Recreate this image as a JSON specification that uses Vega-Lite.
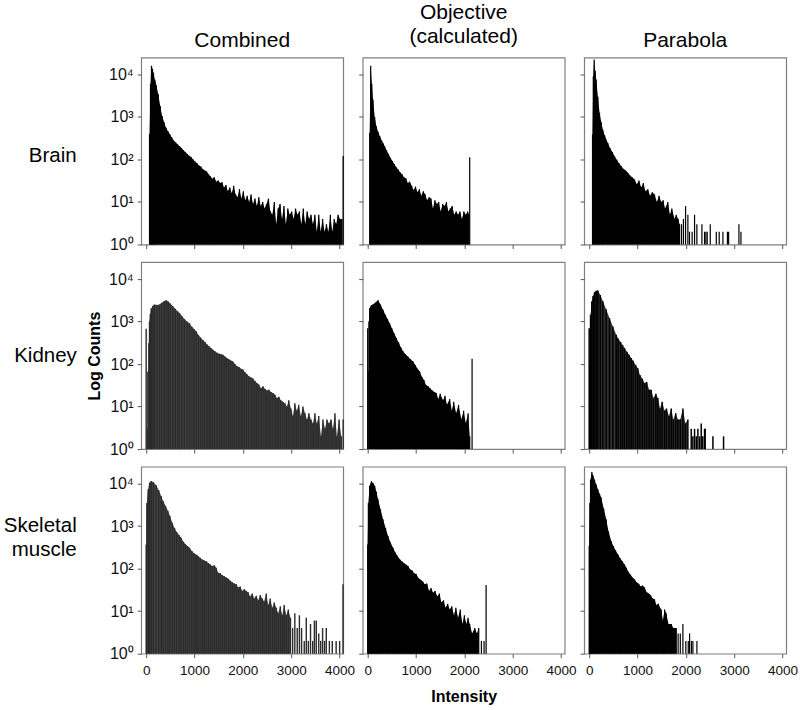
{
"$schema":"https://vega.github.io/schema/vega-lite/v6.json",
"autosize":"none",
"padding":{"left":141.2,"top":57.5,"right":658.8,"bottom":652.5},
"background":"white",
"bounds":"flush",
"columns":3,
"spacing":{"row":17.6,"column":19.5},
"config":{
"view":{"stroke":"#808080","strokeWidth":1.2},
"axis":{"grid":false,"domain":false,"tickColor":"#555","tickSize":4,"labelFont":"Liberation Sans","labelColor":"#111","titleFont":"Liberation Sans","titleColor":"#000","labelOverlap":false},
"title":{"font":"Liberation Sans","fontSize":21,"fontWeight":"normal","color":"#000","lineHeight":24,"anchor":"middle"}
},
"datasets":{
"bc":[{"x":70,"y":400},{"x":90,"y":6000},{"x":110,"y":16000},{"x":130,"y":13500},{"x":150,"y":11000},{"x":180,"y":7500},{"x":210,"y":5600},{"x":250,"y":3400},{"x":290,"y":1800},{"x":330,"y":1050},{"x":370,"y":750},{"x":410,"y":560},{"x":450,"y":460},{"x":490,"y":390},{"x":530,"y":330},{"x":570,"y":280},{"x":610,"y":250},{"x":650,"y":225},{"x":690,"y":205},{"x":730,"y":185},{"x":770,"y":165},{"x":810,"y":150},{"x":850,"y":135},{"x":890,"y":122},{"x":930,"y":115},{"x":970,"y":100},{"x":1010,"y":90},{"x":1050,"y":82},{"x":1090,"y":72},{"x":1130,"y":68},{"x":1170,"y":60},{"x":1210,"y":55},{"x":1250,"y":52},{"x":1290,"y":45},{"x":1330,"y":40},{"x":1370,"y":35},{"x":1410,"y":38},{"x":1450,"y":30},{"x":1490,"y":32},{"x":1530,"y":28},{"x":1570,"y":29},{"x":1610,"y":22},{"x":1650,"y":25},{"x":1690,"y":18},{"x":1730,"y":22},{"x":1770,"y":16},{"x":1810,"y":24},{"x":1850,"y":15},{"x":1890,"y":13},{"x":1930,"y":20},{"x":1970,"y":12},{"x":2010,"y":18},{"x":2050,"y":11},{"x":2090,"y":14},{"x":2130,"y":10},{"x":2170,"y":15},{"x":2210,"y":9},{"x":2250,"y":12},{"x":2290,"y":8},{"x":2330,"y":13},{"x":2370,"y":8},{"x":2410,"y":10},{"x":2450,"y":7},{"x":2490,"y":9},{"x":2530,"y":12},{"x":2570,"y":6},{"x":2610,"y":5},{"x":2650,"y":10},{"x":2690,"y":3},{"x":2730,"y":7},{"x":2770,"y":9},{"x":2810,"y":4},{"x":2850,"y":8},{"x":2890,"y":3},{"x":2930,"y":7},{"x":2970,"y":5},{"x":3010,"y":6},{"x":3050,"y":4},{"x":3090,"y":7},{"x":3130,"y":5},{"x":3170,"y":6},{"x":3210,"y":3},{"x":3250,"y":7},{"x":3290,"y":3},{"x":3330,"y":6},{"x":3370,"y":4},{"x":3410,"y":5},{"x":3450,"y":3},{"x":3490,"y":5},{"x":3530,"y":2},{"x":3570,"y":5},{"x":3610,"y":2},{"x":3650,"y":4},{"x":3690,"y":2},{"x":3730,"y":3},{"x":3770,"y":2},{"x":3810,"y":5},{"x":3850,"y":2},{"x":3890,"y":4},{"x":3930,"y":3},{"x":3970,"y":5},{"x":4010,"y":4},{"x":4050,"y":4},{"x":4075,"y":120}],
"bo":[{"x":41,"y":425},{"x":62,"y":16000},{"x":85,"y":6000},{"x":110,"y":2570},{"x":145,"y":1000},{"x":180,"y":600},{"x":215,"y":450},{"x":250,"y":355},{"x":290,"y":280},{"x":320,"y":240},{"x":352,"y":205},{"x":390,"y":165},{"x":430,"y":135},{"x":470,"y":110},{"x":510,"y":92},{"x":550,"y":78},{"x":590,"y":66},{"x":630,"y":58},{"x":670,"y":50},{"x":710,"y":45},{"x":750,"y":38},{"x":790,"y":36},{"x":830,"y":28},{"x":870,"y":30},{"x":910,"y":24},{"x":950,"y":19},{"x":990,"y":23},{"x":1030,"y":17},{"x":1070,"y":20},{"x":1110,"y":14},{"x":1150,"y":18},{"x":1190,"y":15},{"x":1230,"y":11},{"x":1270,"y":13},{"x":1310,"y":12},{"x":1350,"y":7},{"x":1390,"y":11},{"x":1430,"y":9},{"x":1470,"y":10},{"x":1510,"y":6},{"x":1550,"y":9},{"x":1590,"y":8},{"x":1630,"y":10},{"x":1670,"y":6},{"x":1710,"y":7},{"x":1750,"y":8},{"x":1790,"y":5},{"x":1830,"y":6},{"x":1870,"y":5},{"x":1910,"y":6},{"x":1950,"y":4},{"x":1990,"y":6},{"x":2030,"y":5},{"x":2070,"y":6},{"x":2095,"y":5},{"x":2111,"y":112}],
"bp":[{"x":69,"y":390},{"x":85,"y":9000},{"x":103,"y":22500},{"x":125,"y":12000},{"x":145,"y":7600},{"x":180,"y":3000},{"x":214,"y":1260},{"x":250,"y":750},{"x":283,"y":500},{"x":320,"y":370},{"x":386,"y":245},{"x":430,"y":185},{"x":480,"y":150},{"x":524,"y":120},{"x":570,"y":98},{"x":615,"y":82},{"x":662,"y":70},{"x":710,"y":60},{"x":755,"y":55},{"x":800,"y":49},{"x":845,"y":42},{"x":890,"y":38},{"x":938,"y":34},{"x":985,"y":26},{"x":1030,"y":32},{"x":1076,"y":22},{"x":1120,"y":28},{"x":1165,"y":18},{"x":1214,"y":20},{"x":1260,"y":14},{"x":1305,"y":17},{"x":1352,"y":15},{"x":1400,"y":10},{"x":1445,"y":14},{"x":1490,"y":10},{"x":1530,"y":11},{"x":1570,"y":7},{"x":1628,"y":10},{"x":1670,"y":5},{"x":1710,"y":7},{"x":1766,"y":4},{"x":1800,"y":5},{"x":1840,"y":4},{"x":1870,"y":3},{"x":1910,"y":3},{"x":1950,"y":4},{"x":1994,"y":8},{"x":2042,"y":5},{"x":2075,"y":2},{"x":2130,"y":2},{"x":2180,"y":5},{"x":2228,"y":3},{"x":2332,"y":3},{"x":2387,"y":2},{"x":2415,"y":2},{"x":2442,"y":2},{"x":2505,"y":3},{"x":2630,"y":2},{"x":2690,"y":2},{"x":2767,"y":2},{"x":2860,"y":2},{"x":2885,"y":2},{"x":3098,"y":3},{"x":3140,"y":2}],
"kc":[{"x":0,"y":680},{"x":20,"y":3},{"x":35,"y":67},{"x":55,"y":310},{"x":69,"y":1000},{"x":85,"y":1500},{"x":104,"y":2040},{"x":140,"y":2350},{"x":172,"y":2500},{"x":225,"y":2450},{"x":276,"y":2500},{"x":320,"y":2750},{"x":370,"y":3000},{"x":414,"y":3150},{"x":455,"y":2950},{"x":500,"y":2650},{"x":552,"y":2300},{"x":600,"y":2000},{"x":650,"y":1740},{"x":690,"y":1590},{"x":740,"y":1350},{"x":790,"y":1150},{"x":845,"y":1000},{"x":897,"y":910},{"x":945,"y":750},{"x":990,"y":670},{"x":1035,"y":590},{"x":1080,"y":480},{"x":1125,"y":420},{"x":1173,"y":370},{"x":1215,"y":330},{"x":1260,"y":290},{"x":1300,"y":262},{"x":1340,"y":240},{"x":1380,"y":218},{"x":1420,"y":200},{"x":1465,"y":185},{"x":1510,"y":175},{"x":1550,"y":170},{"x":1587,"y":166},{"x":1630,"y":150},{"x":1670,"y":138},{"x":1710,"y":130},{"x":1750,"y":122},{"x":1794,"y":115},{"x":1835,"y":100},{"x":1875,"y":90},{"x":1920,"y":85},{"x":1960,"y":78},{"x":2001,"y":74},{"x":2040,"y":65},{"x":2080,"y":58},{"x":2125,"y":52},{"x":2170,"y":48},{"x":2208,"y":46},{"x":2250,"y":40},{"x":2290,"y":36},{"x":2330,"y":33},{"x":2375,"y":27},{"x":2415,"y":30},{"x":2460,"y":26},{"x":2500,"y":24},{"x":2540,"y":25},{"x":2580,"y":22},{"x":2622,"y":21},{"x":2665,"y":19},{"x":2705,"y":16},{"x":2745,"y":17},{"x":2785,"y":14},{"x":2829,"y":13},{"x":2870,"y":12},{"x":2910,"y":10},{"x":2950,"y":14},{"x":2995,"y":9},{"x":3036,"y":6},{"x":3075,"y":12},{"x":3115,"y":8},{"x":3155,"y":11},{"x":3200,"y":6},{"x":3243,"y":10},{"x":3285,"y":7},{"x":3325,"y":5},{"x":3365,"y":7},{"x":3410,"y":5},{"x":3450,"y":4},{"x":3490,"y":7},{"x":3530,"y":4},{"x":3570,"y":6},{"x":3615,"y":2},{"x":3657,"y":5},{"x":3700,"y":3},{"x":3740,"y":5},{"x":3780,"y":4},{"x":3825,"y":5},{"x":3864,"y":3},{"x":3905,"y":7},{"x":3945,"y":2},{"x":3990,"y":5},{"x":4036,"y":2},{"x":4075,"y":5}],
"ko":[{"x":0,"y":700},{"x":10,"y":67},{"x":25,"y":1000},{"x":41,"y":2090},{"x":75,"y":2400},{"x":110,"y":2500},{"x":160,"y":2800},{"x":214,"y":3150},{"x":265,"y":2500},{"x":317,"y":1900},{"x":365,"y":1450},{"x":410,"y":1150},{"x":455,"y":910},{"x":500,"y":700},{"x":550,"y":520},{"x":593,"y":410},{"x":640,"y":320},{"x":685,"y":250},{"x":731,"y":200},{"x":780,"y":170},{"x":830,"y":150},{"x":885,"y":130},{"x":938,"y":115},{"x":985,"y":95},{"x":1030,"y":78},{"x":1076,"y":67},{"x":1120,"y":50},{"x":1165,"y":42},{"x":1205,"y":32},{"x":1249,"y":30},{"x":1290,"y":27},{"x":1335,"y":24},{"x":1380,"y":22},{"x":1421,"y":21},{"x":1460,"y":15},{"x":1500,"y":20},{"x":1559,"y":14},{"x":1600,"y":18},{"x":1640,"y":11},{"x":1697,"y":15},{"x":1740,"y":8},{"x":1780,"y":13},{"x":1830,"y":7},{"x":1880,"y":11},{"x":1938,"y":5},{"x":1985,"y":8},{"x":2030,"y":4},{"x":2077,"y":7},{"x":2111,"y":2},{"x":2160,"y":134}],
"kp":[{"x":0,"y":700},{"x":14,"y":100},{"x":28,"y":1450},{"x":55,"y":3000},{"x":80,"y":4000},{"x":110,"y":4900},{"x":145,"y":5300},{"x":180,"y":5400},{"x":230,"y":4200},{"x":283,"y":3000},{"x":350,"y":1950},{"x":421,"y":1200},{"x":490,"y":760},{"x":559,"y":490},{"x":600,"y":400},{"x":650,"y":330},{"x":690,"y":280},{"x":731,"y":240},{"x":780,"y":195},{"x":825,"y":165},{"x":869,"y":138},{"x":910,"y":120},{"x":960,"y":95},{"x":1007,"y":80},{"x":1050,"y":55},{"x":1100,"y":45},{"x":1145,"y":36},{"x":1190,"y":38},{"x":1240,"y":25},{"x":1283,"y":25},{"x":1330,"y":16},{"x":1380,"y":20},{"x":1421,"y":16},{"x":1465,"y":9},{"x":1510,"y":13},{"x":1559,"y":8},{"x":1600,"y":9},{"x":1650,"y":6},{"x":1697,"y":9},{"x":1740,"y":5},{"x":1790,"y":7},{"x":1835,"y":5},{"x":1885,"y":5},{"x":1939,"y":9},{"x":1990,"y":4},{"x":2042,"y":5},{"x":2111,"y":3},{"x":2145,"y":2},{"x":2180,"y":3},{"x":2215,"y":2},{"x":2249,"y":3},{"x":2285,"y":2},{"x":2318,"y":4},{"x":2350,"y":2},{"x":2387,"y":3},{"x":2400,"y":3},{"x":2560,"y":2},{"x":2780,"y":2}],
"mc":[{"x":0,"y":370},{"x":14,"y":3500},{"x":41,"y":7400},{"x":70,"y":10500},{"x":104,"y":11500},{"x":150,"y":10800},{"x":207,"y":9100},{"x":260,"y":7000},{"x":310,"y":5100},{"x":350,"y":3900},{"x":400,"y":3000},{"x":449,"y":2300},{"x":490,"y":1750},{"x":540,"y":1200},{"x":586,"y":910},{"x":630,"y":730},{"x":680,"y":620},{"x":724,"y":535},{"x":770,"y":430},{"x":810,"y":380},{"x":855,"y":340},{"x":897,"y":310},{"x":945,"y":260},{"x":990,"y":230},{"x":1030,"y":215},{"x":1070,"y":200},{"x":1115,"y":180},{"x":1160,"y":165},{"x":1200,"y":155},{"x":1242,"y":150},{"x":1285,"y":135},{"x":1325,"y":125},{"x":1365,"y":115},{"x":1410,"y":120},{"x":1449,"y":105},{"x":1490,"y":80},{"x":1530,"y":78},{"x":1575,"y":70},{"x":1615,"y":66},{"x":1656,"y":62},{"x":1700,"y":58},{"x":1740,"y":52},{"x":1780,"y":48},{"x":1820,"y":45},{"x":1863,"y":43},{"x":1905,"y":36},{"x":1945,"y":38},{"x":1990,"y":30},{"x":2030,"y":33},{"x":2070,"y":30},{"x":2110,"y":28},{"x":2150,"y":22},{"x":2195,"y":26},{"x":2235,"y":20},{"x":2277,"y":23},{"x":2320,"y":18},{"x":2360,"y":24},{"x":2400,"y":20},{"x":2440,"y":17},{"x":2484,"y":26},{"x":2525,"y":14},{"x":2565,"y":20},{"x":2610,"y":12},{"x":2650,"y":16},{"x":2691,"y":12},{"x":2730,"y":9},{"x":2775,"y":13},{"x":2815,"y":8},{"x":2855,"y":14},{"x":2898,"y":8},{"x":2940,"y":11},{"x":2985,"y":7},{"x":3030,"y":4},{"x":3075,"y":9},{"x":3125,"y":4},{"x":3170,"y":8},{"x":3215,"y":4},{"x":3270,"y":2},{"x":3312,"y":7},{"x":3355,"y":2},{"x":3400,"y":5},{"x":3445,"y":2},{"x":3480,"y":6},{"x":3519,"y":6},{"x":3570,"y":3},{"x":3610,"y":2},{"x":3650,"y":4},{"x":3690,"y":2},{"x":3726,"y":4},{"x":3790,"y":2},{"x":3850,"y":2},{"x":3930,"y":2},{"x":4002,"y":2},{"x":4072,"y":43}],
"mo":[{"x":0,"y":370},{"x":14,"y":3500},{"x":41,"y":8900},{"x":76,"y":11300},{"x":110,"y":10300},{"x":145,"y":8900},{"x":180,"y":6400},{"x":214,"y":4300},{"x":265,"y":2500},{"x":317,"y":1450},{"x":370,"y":900},{"x":421,"y":590},{"x":470,"y":420},{"x":524,"y":310},{"x":570,"y":240},{"x":615,"y":200},{"x":662,"y":166},{"x":705,"y":150},{"x":750,"y":135},{"x":790,"y":125},{"x":835,"y":115},{"x":880,"y":95},{"x":920,"y":90},{"x":960,"y":78},{"x":1007,"y":74},{"x":1050,"y":60},{"x":1095,"y":55},{"x":1140,"y":50},{"x":1180,"y":43},{"x":1225,"y":45},{"x":1270,"y":30},{"x":1310,"y":35},{"x":1352,"y":27},{"x":1395,"y":30},{"x":1440,"y":22},{"x":1485,"y":26},{"x":1525,"y":16},{"x":1570,"y":18},{"x":1610,"y":12},{"x":1655,"y":15},{"x":1697,"y":11},{"x":1740,"y":13},{"x":1785,"y":8},{"x":1825,"y":12},{"x":1870,"y":7},{"x":1915,"y":11},{"x":1960,"y":5},{"x":2000,"y":8},{"x":2042,"y":5},{"x":2075,"y":7},{"x":2111,"y":5},{"x":2160,"y":3},{"x":2215,"y":4},{"x":2260,"y":3},{"x":2298,"y":4},{"x":2353,"y":2},{"x":2408,"y":2},{"x":2450,"y":41}],
"mp":[{"x":0,"y":340},{"x":14,"y":3500},{"x":28,"y":12500},{"x":55,"y":18700},{"x":80,"y":15500},{"x":110,"y":12500},{"x":145,"y":9500},{"x":180,"y":7400},{"x":215,"y":5800},{"x":248,"y":4700},{"x":300,"y":2600},{"x":352,"y":1450},{"x":400,"y":750},{"x":455,"y":445},{"x":500,"y":340},{"x":545,"y":270},{"x":593,"y":218},{"x":640,"y":175},{"x":685,"y":150},{"x":731,"y":126},{"x":770,"y":105},{"x":810,"y":85},{"x":855,"y":72},{"x":895,"y":62},{"x":938,"y":56},{"x":980,"y":48},{"x":1025,"y":44},{"x":1065,"y":38},{"x":1105,"y":40},{"x":1145,"y":36},{"x":1190,"y":28},{"x":1230,"y":26},{"x":1270,"y":24},{"x":1310,"y":20},{"x":1352,"y":19},{"x":1390,"y":14},{"x":1430,"y":15},{"x":1490,"y":11},{"x":1525,"y":6},{"x":1560,"y":11},{"x":1594,"y":9},{"x":1640,"y":5},{"x":1697,"y":5},{"x":1740,"y":4},{"x":1801,"y":4},{"x":1840,"y":3},{"x":1885,"y":3},{"x":1939,"y":5},{"x":2000,"y":2},{"x":2050,"y":2},{"x":2077,"y":3},{"x":2115,"y":2},{"x":2146,"y":2},{"x":2229,"y":2}]
},
"concat":[
{"data":{"name":"bc"},"width":202,"height":187,"title":{"text":"Combined","offset":7},
"encoding":{
"x":{"field":"x","type":"quantitative","scale":{"domain":[-103,4076],"nice":false,"zero":false},"axis":{"values":[0,1000,2000,3000,4000],"labels":false,"title":null}},
"y":{"field":"y","type":"quantitative","scale":{"type":"log","domain":[1,25000],"nice":false},"axis":{"values":[1,10,100,1000,10000],"labelFontSize":16,"labelPadding":4,"labelExpr":"'10'+['⁰','¹','²','³','⁴'][round(log(datum.value)/LN10)]","title":"Brain","titleAngle":0,"titleAlign":"right","titleBaseline":"middle","titleFontSize":20.5,"titleFontWeight":"normal","titleX":-65,"titleY":98}},
"y2":{"datum":1}},
"layer":[{"transform":[{"filter":"datum.x<4060"}],"mark":{"type":"area","color":"#000"}},{"mark":{"type":"rule","strokeWidth":1.3,"color":"#000"}}]},
{"data":{"name":"bo"},"width":202,"height":187,"title":{"text":["Objective","(calculated)"],"offset":11},
"encoding":{
"x":{"field":"x","type":"quantitative","scale":{"domain":[-103,4076],"nice":false,"zero":false},"axis":{"values":[0,1000,2000,3000,4000],"labels":false,"title":null}},
"y":{"field":"y","type":"quantitative","scale":{"type":"log","domain":[1,25000],"nice":false},"axis":{"values":[1,10,100,1000,10000],"labels":false,"title":null}},
"y2":{"datum":1}},
"layer":[{"transform":[{"filter":"datum.x<2100"}],"mark":{"type":"area","color":"#000"}},{"mark":{"type":"rule","strokeWidth":1.2,"color":"#000"}}]},
{"data":{"name":"bp"},"width":202,"height":187,"title":{"text":"Parabola","offset":7},
"encoding":{
"x":{"field":"x","type":"quantitative","scale":{"domain":[-103,4076],"nice":false,"zero":false},"axis":{"values":[0,1000,2000,3000,4000],"labels":false,"title":null}},
"y":{"field":"y","type":"quantitative","scale":{"type":"log","domain":[1,25000],"nice":false},"axis":{"values":[1,10,100,1000,10000],"labels":false,"title":null}},
"y2":{"datum":1}},
"layer":[{"transform":[{"filter":"datum.x<1890"}],"mark":{"type":"area","color":"#000"}},{"mark":{"type":"rule","strokeWidth":1.2,"color":"#000"}}]},
{"data":{"name":"kc"},"width":202,"height":187,"title":{"text":"Kidney","fontSize":20.5,"orient":"left","angle":0,"align":"right","baseline":"middle","offset":-53},
"encoding":{
"x":{"field":"x","type":"quantitative","scale":{"domain":[-103,4076],"nice":false,"zero":false},"axis":{"values":[0,1000,2000,3000,4000],"labels":false,"title":null}},
"y":{"field":"y","type":"quantitative","scale":{"type":"log","domain":[1,25000],"nice":false},"axis":{"values":[1,10,100,1000,10000],"labelFontSize":16,"labelPadding":4,"labelExpr":"'10'+['⁰','¹','²','³','⁴'][round(log(datum.value)/LN10)]","title":"Log Counts","titleFontSize":16,"titleFontWeight":"bold","titlePadding":6}},
"y2":{"datum":1}},
"layer":[{"transform":[{"filter":"datum.x>=55 && datum.x<4060"}],"mark":{"type":"area","color":"#444"}},{"mark":{"type":"rule","strokeWidth":1.4,"color":"#2a2a2a"}}]},
{"data":{"name":"ko"},"width":202,"height":187,
"encoding":{
"x":{"field":"x","type":"quantitative","scale":{"domain":[-103,4076],"nice":false,"zero":false},"axis":{"values":[0,1000,2000,3000,4000],"labels":false,"title":null}},
"y":{"field":"y","type":"quantitative","scale":{"type":"log","domain":[1,25000],"nice":false},"axis":{"values":[1,10,100,1000,10000],"labels":false,"title":null}},
"y2":{"datum":1}},
"layer":[{"transform":[{"filter":"datum.x>=25 && datum.x<2120"}],"mark":{"type":"area","color":"#000"}},{"mark":{"type":"rule","strokeWidth":1.2,"color":"#000"}}]},
{"data":{"name":"kp"},"width":202,"height":187,
"encoding":{
"x":{"field":"x","type":"quantitative","scale":{"domain":[-103,4076],"nice":false,"zero":false},"axis":{"values":[0,1000,2000,3000,4000],"labels":false,"title":null}},
"y":{"field":"y","type":"quantitative","scale":{"type":"log","domain":[1,25000],"nice":false},"axis":{"values":[1,10,100,1000,10000],"labels":false,"title":null}},
"y2":{"datum":1}},
"layer":[{"transform":[{"filter":"datum.x>=28 && datum.x<2050"}],"mark":{"type":"area","color":"#333"}},{"mark":{"type":"rule","strokeWidth":1.5,"color":"#000"}}]},
{"data":{"name":"mc"},"width":202,"height":187,
"encoding":{
"x":{"field":"x","type":"quantitative","scale":{"domain":[-103,4076],"nice":false,"zero":false},"axis":{"values":[0,1000,2000,3000,4000],"format":"d","labelFontSize":13.5,"labelPadding":6,"title":null}},
"y":{"field":"y","type":"quantitative","scale":{"type":"log","domain":[1,25000],"nice":false},"axis":{"values":[1,10,100,1000,10000],"labelFontSize":16,"labelPadding":4,"labelExpr":"'10'+['⁰','¹','²','³','⁴'][round(log(datum.value)/LN10)]","title":["Skeletal","muscle"],"titleAngle":0,"titleAlign":"right","titleBaseline":"middle","titleFontSize":20.5,"titleFontWeight":"normal","titleLineHeight":24,"titleX":-65,"titleY":59}},
"y2":{"datum":1}},
"layer":[{"transform":[{"filter":"datum.x<3000"}],"mark":{"type":"area","color":"#444"}},{"mark":{"type":"rule","strokeWidth":1.4,"color":"#2a2a2a"}}]},
{"data":{"name":"mo"},"width":202,"height":187,
"encoding":{
"x":{"field":"x","type":"quantitative","scale":{"domain":[-103,4076],"nice":false,"zero":false},"axis":{"values":[0,1000,2000,3000,4000],"format":"d","labelFontSize":13.5,"labelPadding":6,"title":"Intensity","titleFontSize":16,"titleFontWeight":"bold","titlePadding":11}},
"y":{"field":"y","type":"quantitative","scale":{"type":"log","domain":[1,25000],"nice":false},"axis":{"values":[1,10,100,1000,10000],"labels":false,"title":null}},
"y2":{"datum":1}},
"layer":[{"transform":[{"filter":"datum.x<2300"}],"mark":{"type":"area","color":"#000"}},{"mark":{"type":"rule","strokeWidth":1.2,"color":"#000"}}]},
{"data":{"name":"mp"},"width":202,"height":187,
"encoding":{
"x":{"field":"x","type":"quantitative","scale":{"domain":[-103,4076],"nice":false,"zero":false},"axis":{"values":[0,1000,2000,3000,4000],"format":"d","labelFontSize":13.5,"labelPadding":6,"title":null}},
"y":{"field":"y","type":"quantitative","scale":{"type":"log","domain":[1,25000],"nice":false},"axis":{"values":[1,10,100,1000,10000],"labels":false,"title":null}},
"y2":{"datum":1}},
"layer":[{"transform":[{"filter":"datum.x<1810"}],"mark":{"type":"area","color":"#000"}},{"mark":{"type":"rule","strokeWidth":1.2,"color":"#000"}}]}
]
}
